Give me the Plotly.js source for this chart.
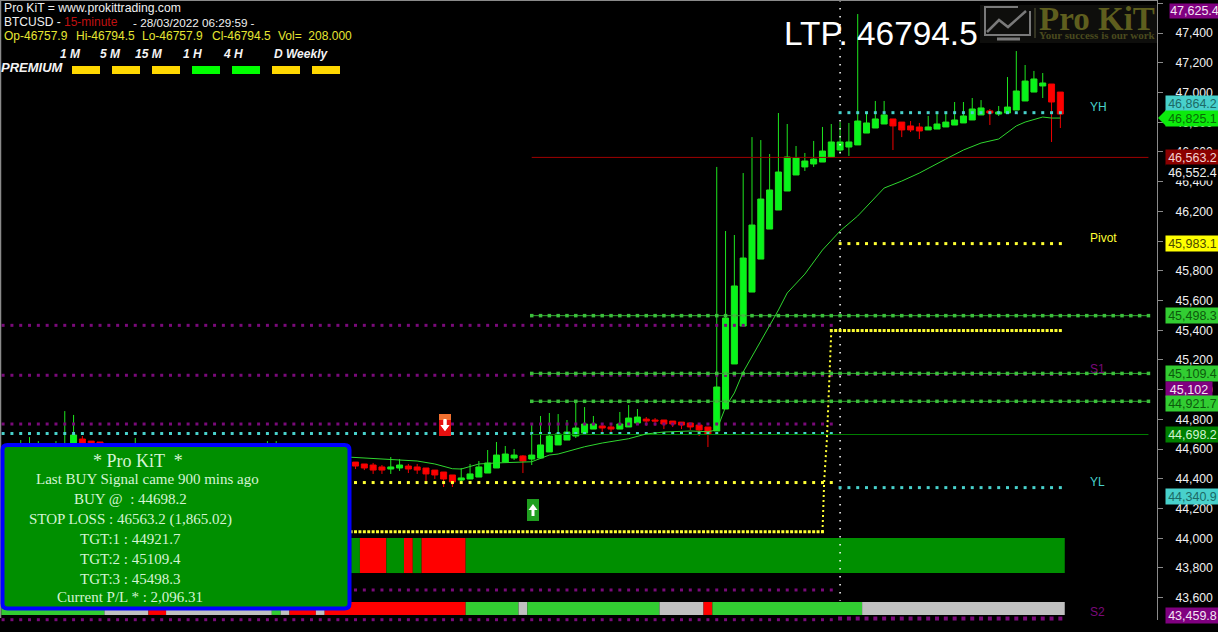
<!DOCTYPE html>
<html>
<head>
<meta charset="utf-8">
<script src="https://cdn.plot.ly/plotly-3.0.1.min.js"></script>
<style>html,body{margin:0;padding:0;background:#000;overflow:hidden}#chart{width:1218px;height:632px}</style>
</head>
<body>
<div id="chart"></div>
<script>
// ---------- candles (x = bar number on the 15-minute chart) ----------
var candleIndex = [0,1,2,4,5,6,7,8,9,13,28,29,
38,39,40,41,42,43,44,45,46,47,48,49,50,51,52,53,54,55,56,57,58,59,60,61,62,63,64,65,66,67,68,69,70,71,72,73,74,75,76,77,78,
79,80,81,82,83,84,85,86,87,88,89,90,91,92,93,94,95,96,97,98,99,100,101,102,103,104,105,106,107,108,109,110,111,112,113,114,115,116,117,118];
var candleOpen = [44520,44520,44530,44530,44540,44590,44668,44654,44648,44540,44480,44500,
44513,44500,44493,44480,44466,44473,44486,44480,44473,44459,44446,44426,44392,44399,44412,44439,44473,44513,44540,44554,44533,44540,44581,44628,44661,44688,44708,44735,44756,44749,44735,44749,44776,44802,44796,44796,44789,44782,44776,44762,44749,
44722,44870,45173,45428,45657,45879,46081,46209,46337,46445,46499,46519,46532,46566,46613,46633,46647,46727,46761,46788,46822,46801,46775,46768,46748,46754,46768,46781,46795,46815,46849,46876,46855,46862,46882,46943,47003,47044,47057,47003];
var candleHigh = [44661,44681,44654,44654,44856,44830,44688,44654,44648,44675,44654,44654,
44513,44500,44507,44493,44547,44533,44500,44500,44473,44459,44446,44426,44473,44500,44520,44594,44648,44621,44601,44560,44769,44823,44843,44836,44796,44917,44883,44823,44776,44776,44850,44897,44870,44816,44809,44796,44789,44782,44776,44762,44749,
46499,46068,46041,46458,46700,46680,46586,46862,46788,46640,46593,46674,46768,46788,46801,46795,47528,46869,46943,46943,46822,46801,46808,46795,46842,46862,46869,46936,46936,46963,46949,46889,46909,47104,47279,47185,47145,47131,47057,47003];
var candleLow = [44500,44500,44500,44500,44500,44560,44570,44560,44550,44500,44440,44460,
44466,44459,44433,44433,44433,44453,44439,44433,44385,44399,44345,44345,44379,44399,44412,44439,44473,44513,44527,44439,44493,44540,44581,44628,44661,44675,44708,44735,44695,44695,44735,44749,44776,44756,44756,44735,44749,44735,44729,44688,44614,
44722,44870,45173,45428,45657,45879,46081,46209,46337,46445,46472,46499,46532,46566,46593,46573,46647,46727,46761,46788,46613,46700,46734,46687,46748,46754,46768,46781,46795,46815,46849,46781,46842,46862,46882,46943,47003,46963,46667,46761];
var candleClose = [44560,44570,44580,44570,44610,44695,44594,44600,44590,44580,44520,44530,
44486,44473,44459,44459,44480,44493,44466,44459,44433,44426,44399,44379,44406,44433,44480,44507,44560,44567,44560,44520,44560,44628,44688,44702,44715,44742,44769,44769,44742,44735,44769,44809,44816,44789,44789,44769,44769,44762,44749,44729,44702,
45018,45482,45698,45886,46108,46283,46344,46465,46566,46559,46539,46552,46606,46667,46667,46667,46808,46795,46822,46849,46775,46748,46748,46741,46768,46788,46801,46815,46842,46889,46896,46862,46869,46902,47010,47077,47091,47064,46936,46855];

// ---------- moving average ----------
var maIndex = [37,43,45,47,49,50,52,54,56,58,60,61,64,66,69,71,73,76,78,79,80,81,82,84,86,87,89,91,93,95,97,98,100,102,105,107,109,111,113,114,116,117,118];
var maValue = [44547,44527,44520,44500,44468,44466,44500,44507,44513,44515,44560,44567,44616,44641,44670,44702,44715,44722,44717,44729,44883,44978,45119,45328,45536,45651,45778,45940,46068,46169,46297,46357,46404,46458,46552,46613,46660,46687,46775,46801,46835,46828,46828];

// ---------- price levels ----------
var leftPurpleLevels = [45433, 45097, 44769, 43652, 43452];
var turquoiseLeft = 44705;
var yellowLeft = 44375;
var yellowLower = 44044;
var yellowUpper = 45398;
var stepIndex = [91, 91.2, 91.5, 91.8, 92];
var stepValue = [44042, 44392, 44661, 45132, 45395];
var yesterdayHigh = 46864.2, pivot = 45983.1, yesterdayLow = 44340.9;
var s1 = 45102, s2 = 43459.8, topLevel = 47625.4;
var targets = [45498.3, 45109.4, 44921.7];
var stopLoss = 46563.2, buyPrice = 44698.2;

// ---------- signal strips ----------
var strip1Edges = [37.5,38.5,41.5,43.5,44.5,45.5,50.5,118.5];
var strip1State = ['buy','sell','buy','sell','buy','sell','buy'];
var strip2Edges = [-2.2,9.5,14.5,16.5,28.5,29.5,30.5,33.5,34.5,50.5,56.5,57.5,72.5,77.5,78.5,95.5,118.5];
var strip2State = ['buy','flat','sell','flat','buy','flat','sell','flat','sell','buy','flat','buy','flat','sell','buy','flat'];

// ---------- text ----------
var tagValues = [topLevel,46864.2,46825.1,46563.2,46552.4,45983.1,45498.3,45109.4,45102,44921.7,44698.2,44340.9,43459.8];
var tagLabels = ['47,625.4','46,864.2','46,825.1','46,563.2','46,552.4','45,983.1','45,498.3','45,109.4','45,102','44,921.7','44,698.2','44,340.9','43,459.8'];
var tfLabels = ['1 M','5 M','15 M','1 H','4 H','D Weekly'];
var tfStates = ['gold','gold','gold','lime','lime','gold','gold'];
var panelLines = ['* Pro KiT  *','Last BUY Signal came 900 mins ago','BUY @  : 44698.2','STOP LOSS : 46563.2 (1,865.02)','TGT:1 : 44921.7','TGT:2 : 45109.4','TGT:3 : 45498.3','Current P/L * : 2,096.31'];

// ---------- layout constants ----------
var W = 1157, H = 620;
function px(x){return x/W;}
function py(y){return 1-y/H;}
function span(a,b,step){var o=[];for(var v=a;v<=b;v+=(step||1))o.push(v);return o;}
function same(arr,v){return arr.map(function(){return v;});}

var stateColor1 = {buy:'#008f00',sell:'#ff0000'};
var stateColor2 = {buy:'#32cd32',sell:'#ff0000',flat:'#c0c0c0'};
var purple='#7a0a7a', turq='#48d1cc', yellow='#ffff33', limeT='#3cc03c';

function stripBar(edges,states,colors,lo,hi){
  var mids=[],widths=[];
  for(var i=0;i<states.length;i++){mids.push((edges[i]+edges[i+1])/2);widths.push(edges[i+1]-edges[i]);}
  return {type:'bar',x:mids,width:widths,y:same(mids,hi-lo),base:same(mids,lo),
    marker:{color:states.map(function(s){return colors[s];}),line:{width:0}},hoverinfo:'skip',showlegend:false};
}
function dots(xs,v,color,size){
  return {type:'scatter',mode:'markers',x:xs,y:same(xs,v),cliponaxis:false,
    marker:{symbol:'square',size:size||3,color:color,line:{width:0}},hoverinfo:'skip',showlegend:false};
}
function hline(a,b,v,color){
  return {type:'scatter',mode:'lines',x:[a,b],y:[v,v],line:{color:color,width:1},hoverinfo:'skip',showlegend:false};
}

var traces = [];
traces.push(stripBar(strip1Edges,strip1State,stateColor1,43766,44002));
traces.push(stripBar(strip2Edges,strip2State,stateColor2,43484,43571));
traces.push({type:'candlestick',x:candleIndex,open:candleOpen,high:candleHigh,low:candleLow,close:candleClose,
  whiskerwidth:0,
  increasing:{line:{color:'#1ee61e',width:1},fillcolor:'#06f51a'},
  decreasing:{line:{color:'#f00000',width:1},fillcolor:'#ff0000'},
  hoverinfo:'skip',showlegend:false});
// time marker
traces.push({type:'scatter',mode:'lines',x:[93,93],y:[47622,43580],line:{color:'#ffffff',width:1.5,dash:'1.5px,6.5px'},hoverinfo:'skip',showlegend:false});
leftPurpleLevels.forEach(function(v,k){traces.push(dots(span(k==3?37:-2,92),v,purple));});
traces.push(dots(span(-2,92),turquoiseLeft,turq));
traces.push(dots(span(37,92),yellowLeft,yellow));
traces.push(dots(span(37.5,91,0.5),yellowLower,yellow,3));
traces.push({type:'scatter',mode:'lines',x:stepIndex,y:stepValue,line:{color:yellow,width:2,dash:'2px,3px'},hoverinfo:'skip',showlegend:false});
traces.push(dots(span(92,118,0.5),yellowUpper,yellow,3));
traces.push(dots(span(93,118),yesterdayHigh,turq));
traces.push(dots(span(93,118),pivot,yellow));
traces.push(dots(span(93,118),yesterdayLow,turq));
traces.push(dots(span(93,118),s1,purple));
traces.push(dots(span(93,118),s2,purple,4));
traces.push(dots(span(93,118),topLevel,purple));
traces.push(hline(58,128,stopLoss,'#a00000'));
traces.push(hline(58,128,buyPrice,'#008000'));
targets.forEach(function(v){
  traces.push(hline(58,128,v,'#2e9e2e'));
  traces.push(dots(span(58,128),v,limeT,3.5));
});
traces.push({type:'scatter',mode:'lines',x:maIndex,y:maValue,line:{color:'#2fd62f',width:1},hoverinfo:'skip',showlegend:false});

// ---------- shapes ----------
var shapes = [];
shapes.push({type:'line',xref:'paper',yref:'paper',x0:px(0.5),x1:px(0.5),y0:py(0),y1:py(618),line:{color:'#8a8a8a',width:1.5}});
shapes.push({type:'line',xref:'paper',yref:'paper',x0:0,x1:1,y0:py(0.5),y1:py(0.5),line:{color:'#8a8a8a',width:1}});
var tfBoxColor={gold:'#ffd700',lime:'#00ff00'};
tfStates.forEach(function(s,i){
  shapes.push({type:'rect',xref:'paper',yref:'paper',layer:'above',x0:px(72+40*i),x1:px(100+40*i),y0:py(66),y1:py(74),fillcolor:tfBoxColor[s],line:{width:0}});
});
// info panel
(function(){
  var l=2.5,r=349.5,t=445,b=608.5,c=5;
  var p='M'+px(l+c)+','+py(t)+' L'+px(r-c)+','+py(t)+' Q'+px(r)+','+py(t)+' '+px(r)+','+py(t+c)+
        ' L'+px(r)+','+py(b-c)+' Q'+px(r)+','+py(b)+' '+px(r-c)+','+py(b)+
        ' L'+px(l+c)+','+py(b)+' Q'+px(l)+','+py(b)+' '+px(l)+','+py(b-c)+
        ' L'+px(l)+','+py(t+c)+' Q'+px(l)+','+py(t)+' '+px(l+c)+','+py(t)+' Z';
  shapes.push({type:'path',xref:'paper',yref:'paper',layer:'above',path:p,fillcolor:'#008f00',line:{color:'#0000ff',width:4}});
})();
// logo
shapes.push({type:'rect',xref:'paper',yref:'paper',layer:'below',x0:px(980),x1:px(1157),y0:py(5),y1:py(43),fillcolor:'#0e0e0c',line:{width:0}});
shapes.push({type:'path',xref:'paper',yref:'paper',path:'M'+px(1030)+','+py(11)+' L'+px(1030)+','+py(35)+' L'+px(985)+','+py(35)+' L'+px(985)+','+py(7)+' L'+px(1018)+','+py(7),line:{color:'#7a7a7a',width:2}});
shapes.push({type:'path',xref:'paper',yref:'paper',path:'M'+px(987)+','+py(32)+' L'+px(999)+','+py(20)+' L'+px(1008)+','+py(27)+' L'+px(1026)+','+py(11),line:{color:'#7a7a7a',width:2.5}});
shapes.push({type:'line',xref:'paper',yref:'paper',x0:px(997),x1:px(1020),y0:py(39),y1:py(39),line:{color:'#7a7a7a',width:3}});
shapes.push({type:'line',xref:'paper',yref:'paper',x0:px(1035),x1:px(1035),y0:py(8),y1:py(38),line:{color:'#5a5a3a',width:1}});
// price tag pointer
shapes.push({type:'path',xref:'paper',yref:'paper',path:'M'+px(1158)+','+py(118)+' L'+px(1166)+','+py(110)+' L'+px(1166)+','+py(126)+' Z',fillcolor:'#0ceb0c',line:{width:0}});

// ---------- annotations ----------
var ann = [];
function txt(x,y,text,color,size,opts){
  var a={xref:'paper',yref:'paper',x:px(x-1),y:py(y),text:text,showarrow:false,xanchor:'left',yanchor:'middle',
    font:{family:'Liberation Sans, Arial, sans-serif',size:size||12,color:color},borderpad:0};
  for(var k in (opts||{}))a[k]=opts[k];
  ann.push(a);
}
txt(4,8,'Pro KiT = www.prokittrading.com','#f0f0f0',12.2);
txt(4,22,'BTCUSD -','#f0f0f0');
txt(64,22,'15-minute','#c01010');
txt(133,22,'- 28/03/2022 06:29:59 -','#f0f0f0',11.7);
var ohlcText=['Op-46757.9','Hi-46794.5','Lo-46757.9','Cl-46794.5','Vol=  208.000'];
var ohlcX=[4,76,142,212,278];
ohlcText.forEach(function(t,i){txt(ohlcX[i],36,t,'#e6e632');});
var tfX=[60,100,135,183,223,274];
tfLabels.forEach(function(t,i){txt(tfX[i],54,'<b><i>'+t+'</i></b>','#f4f4f4');});
txt(1,68,'<b><i>PREMIUM</i></b>','#f4f4f4',13);
txt(784,33,'LTP. 46794.5','#ffffff',33.4);
txt(1039,19,'<b>Pro KiT</b>','#5e5e1e',33,{font:{family:'Liberation Serif, serif',size:33,color:'#5e5e1e'}});
txt(1039,35,'<b>Your success is our work</b>','#45451c',11,{font:{family:'Liberation Serif, serif',size:11,color:'#4a4a1e'}});
// side labels
var sideText=['YH','Pivot','S1','YL','S2'];
var sideY=[107,238,369,482,612];
var sideColor=[turq,yellow,'#7a0a7a',turq,'#7a0a7a'];
sideText.forEach(function(t,i){txt(1090,sideY[i],t,sideColor[i]);});
// panel
var panelX=[138,147,130,130,130,130,130,130];
var panelY=[461,479,498.5,519,539,559,579,597];
panelLines.forEach(function(t,i){
  ann.push({xref:'paper',yref:'paper',x:px(panelX[i]),y:py(panelY[i]),text:t,showarrow:false,xanchor:'center',yanchor:'middle',
    font:{family:'Liberation Serif, Georgia, serif',size:i==0?18:15,color:'#d4f4d4'}});
});
// signal arrows
function arrowBox(x,y,bg,path){
  shapes.push({type:'rect',xref:'paper',yref:'paper',layer:'above',x0:px(x-6),x1:px(x+6),y0:py(y-11),y1:py(y+11),fillcolor:bg,line:{width:0}});
  shapes.push({type:'path',xref:'paper',yref:'paper',layer:'above',path:path,fillcolor:'#ffffff',line:{width:0}});
}
function downArrow(x,y){return 'M'+px(x-1.5)+','+py(y-6)+' L'+px(x+1.5)+','+py(y-6)+' L'+px(x+1.5)+','+py(y)+' L'+px(x+4.5)+','+py(y)+' L'+px(x)+','+py(y+6)+' L'+px(x-4.5)+','+py(y)+' L'+px(x-1.5)+','+py(y)+' Z';}
function upArrow(x,y){return 'M'+px(x-1.5)+','+py(y+6)+' L'+px(x+1.5)+','+py(y+6)+' L'+px(x+1.5)+','+py(y)+' L'+px(x+4.5)+','+py(y)+' L'+px(x)+','+py(y-6)+' L'+px(x-4.5)+','+py(y)+' L'+px(x-1.5)+','+py(y)+' Z';}
arrowBox(445,425,'#e81010',downArrow(445,425));
shapes.push({type:'rect',xref:'paper',yref:'paper',layer:'above',x0:px(439),x1:px(451),y0:py(414),y1:py(420),fillcolor:'#f07030',line:{width:0}});
shapes.push({type:'path',xref:'paper',yref:'paper',layer:'above',path:downArrow(445,425),fillcolor:'#ffffff',line:{width:0}});
arrowBox(533,510,'#1f9e1f',upArrow(533,510));
// price tags
var tagStyle=[
 {bg:'#800080',fg:'#f4e4f4',w:49,dx:12,dy:-11},
 {bg:'#48d1cc',fg:'#1c6a66',w:53,dx:8,dy:9},
 {bg:'#0ceb0c',fg:'#066a06',w:53,dx:8,dy:0},
 {bg:'#8b0000',fg:'#f4d0d0',w:53,dx:8,dy:0},
 {bg:'#000000',fg:'#f0f0f0',w:53,dx:8,dy:-13},
 {bg:'#ffff00',fg:'#4a4a00',w:53,dx:8,dy:0},
 {bg:'#32cd32',fg:'#0c5a0c',w:53,dx:8,dy:0},
 {bg:'#32cd32',fg:'#0c5a0c',w:53,dx:8,dy:0},
 {bg:'#800080',fg:'#f4e4f4',w:46,dx:8,dy:-14.5},
 {bg:'#32cd32',fg:'#0c5a0c',w:53,dx:8,dy:-2},
 {bg:'#008000',fg:'#d0f4d0',w:53,dx:8,dy:0},
 {bg:'#48d1cc',fg:'#1c6a66',w:53,dx:8,dy:-9},
 {bg:'#800080',fg:'#f4e4f4',w:53,dx:8,dy:3}
];
tagValues.forEach(function(v,i){
  var s=tagStyle[i];
  var vv=Math.min(v,47622);
  ann.push({xref:'paper',yref:'y',x:1,y:vv,xanchor:'left',yanchor:'middle',xshift:s.dx,yshift:s.dy,text:tagLabels[i],
    showarrow:false,width:s.w,height:i==0?14:15,align:'center',bgcolor:s.bg,borderpad:0,
    font:{family:'Liberation Sans, Arial, sans-serif',size:12.5,color:s.fg}});
});

var layout = {
  width:1218,height:632,margin:{l:0,r:61,t:0,b:12,pad:0},
  paper_bgcolor:'#000000',plot_bgcolor:'#000000',showlegend:false,hovermode:false,dragmode:false,
  barmode:'overlay',boxgap:0.1,boxgroupgap:0.24,
  xaxis:{range:[-2.352,128.97],visible:false,fixedrange:true,rangeslider:{visible:false},showgrid:false,zeroline:false},
  yaxis:{range:[43450,47622.5],side:'right',dtick:200,tick0:0,tickformat:',d',showgrid:false,zeroline:false,
    showline:true,linecolor:'#8a8a8a',linewidth:1,ticks:'outside',ticklen:5,tickwidth:1,tickcolor:'#8a8a8a',
    ticklabelstandoff:10,tickfont:{family:'Liberation Sans, Arial, sans-serif',size:12.2,color:'#f0f0f0'},fixedrange:true},
  shapes:shapes,annotations:ann
};
Plotly.newPlot('chart',traces,layout,{staticPlot:true,displayModeBar:false,responsive:false});
</script>
</body>
</html>
